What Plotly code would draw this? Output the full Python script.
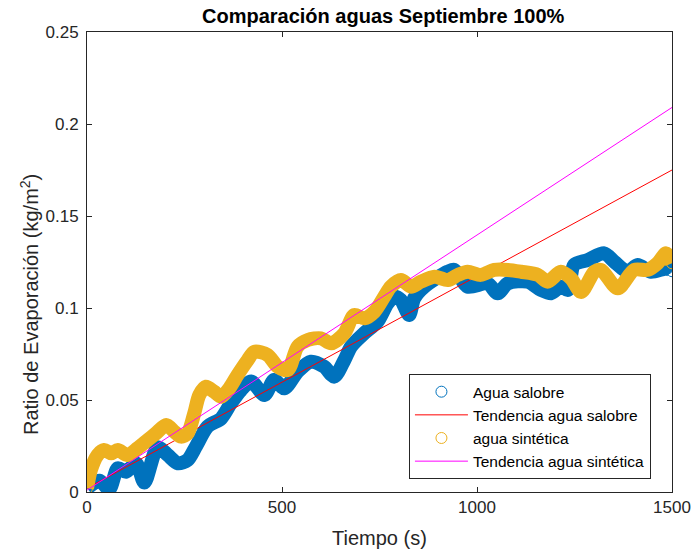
import plotly.graph_objects as go

# ---- data ----
t_salobre = [0, 32, 57, 79, 100, 126, 147, 181, 207, 233, 258, 279, 309, 344, 369, 395,
             421, 455, 480, 506, 540, 574, 608, 634, 660, 677, 711, 745, 771, 788, 805,
             826, 839, 865, 925, 942, 976, 1027, 1053, 1079, 1130, 1164, 1190, 1215,
             1233, 1249, 1284, 1326, 1352, 1386, 1412, 1446, 1489, 1500]
v_salobre = [0.002, 0.0061, 0.0015, 0.0129, 0.011, 0.0156, 0.0051, 0.0243, 0.0201, 0.0156,
             0.0174, 0.0246, 0.0355, 0.040, 0.0482, 0.0554, 0.060, 0.0527, 0.0609, 0.0564,
             0.0654, 0.0708, 0.0681, 0.0627, 0.0717, 0.079, 0.0863, 0.0926, 0.1026, 0.1061,
             0.1043, 0.0962, 0.1053, 0.1116, 0.1197, 0.1207, 0.1116, 0.1134, 0.108, 0.1134,
             0.1143, 0.1098, 0.108, 0.1116, 0.1098, 0.1234, 0.1261, 0.1297, 0.1252, 0.1197,
             0.1234, 0.1197, 0.1216, 0.120]

t_sintetica = [0, 10, 27, 44, 62, 79, 104, 130, 156, 177, 203, 224, 241, 258, 275, 288,
               305, 326, 344, 365, 386, 412, 429, 463, 489, 515, 540, 566, 600, 626, 660,
               685, 711, 737, 762, 779, 805, 831, 856, 891, 925, 951, 976, 1010, 1044,
               1079, 1113, 1156, 1181, 1215, 1241, 1267, 1301, 1318, 1361, 1403, 1438,
               1463, 1485, 1500]
v_sintetica = [0.002, 0.012, 0.0201, 0.0228, 0.021, 0.0228, 0.0201, 0.0238, 0.0283, 0.0319,
               0.0364, 0.0328, 0.0301, 0.0319, 0.0428, 0.0527, 0.0572, 0.0545, 0.0518, 0.0564,
               0.0636, 0.0717, 0.0762, 0.0745, 0.0681, 0.0663, 0.079, 0.0826, 0.0835, 0.0808,
               0.0863, 0.0962, 0.0944, 0.098, 0.1061, 0.1116, 0.1152, 0.1116, 0.1143, 0.117,
               0.1152, 0.118, 0.1197, 0.118, 0.1207, 0.1207, 0.1197, 0.118, 0.1143, 0.1197,
               0.1161, 0.1087, 0.1197, 0.1207, 0.1107, 0.1207, 0.1207, 0.1243, 0.1297, 0.1243]

t_trend = [0, 1500]
trend_salobre = [0.002, 0.175]
trend_sintetica = [0.001, 0.209]

x_ticks = [0, 500, 1000, 1500]
y_ticks = [0, 0.05, 0.1, 0.15, 0.2, 0.25]
y_tick_text = ["0", "0.05", "0.1", "0.15", "0.2", "0.25"]

names = ["Agua salobre", "Tendencia agua salobre", "agua sintética", "Tendencia agua sintética"]

BLUE = "#0072BD"
YELLOW = "#EDB120"
AXC = "#262626"
FONT = "Liberation Sans, Arial, Helvetica, sans-serif"

fig = go.Figure()

def band(t, v, color, name):
    fig.add_trace(go.Scatter(x=t, y=v, mode="lines", line=dict(color=color, width=14, shape="spline", smoothing=0.8),
                             showlegend=False, legendgroup=name, hoverinfo="skip"))
    fig.add_trace(go.Scatter(x=t, y=v, mode="markers", name=name, legendgroup=name,
                             marker=dict(symbol="circle-open", size=11, color=color, line=dict(width=1))))

band(t_salobre, v_salobre, BLUE, names[0])
fig.add_trace(go.Scatter(x=t_trend, y=trend_salobre, mode="lines", name=names[1],
                         line=dict(color="#FF0000", width=1)))
band(t_sintetica, v_sintetica, YELLOW, names[2])
fig.add_trace(go.Scatter(x=t_trend, y=trend_sintetica, mode="lines", name=names[3],
                         line=dict(color="#FF00FF", width=1)))

axis_common = dict(showline=True, linecolor=AXC, linewidth=1, mirror="allticks",
                   ticks="inside", ticklen=5, tickcolor=AXC, tickwidth=1,
                   showgrid=False, zeroline=False, automargin=False,
                   tickfont=dict(family=FONT, size=17, color=AXC))

fig.update_xaxes(range=[0, 1500], tickvals=x_ticks, **axis_common)
fig.update_yaxes(range=[0, 0.25], tickvals=y_ticks, ticktext=y_tick_text, ticklabelstandoff=4, **axis_common)

fig.update_layout(
    width=694, height=552,
    margin=dict(l=87, r=22, t=32, b=60, autoexpand=False),
    paper_bgcolor="white", plot_bgcolor="white",
    font=dict(family=FONT, color=AXC),
    showlegend=True,
    legend=dict(x=0.964, xanchor="right", y=0.028, yanchor="bottom",
                bgcolor="white", bordercolor=AXC, borderwidth=1,
                font=dict(family=FONT, size=15.5, color="black"),
                itemwidth=53, tracegroupgap=0),
    annotations=[
        dict(text="<b>Comparación aguas Septiembre 100%</b>", xref="paper", yref="paper",
             x=(383 - 87) / 585, y=(492 - 16) / 460, xanchor="center", yanchor="middle",
             showarrow=False, font=dict(family=FONT, size=20, color="black")),
        dict(text="Tiempo (s)", xref="paper", yref="paper",
             x=0.5, y=(492 - 538) / 460, xanchor="center", yanchor="middle",
             showarrow=False, font=dict(family=FONT, size=20, color=AXC)),
        dict(text="Ratio de Evaporación (kg/m<sup>2</sup>)", xref="paper", yref="paper",
             x=(29 - 87) / 585, y=(492 - 305) / 460, xanchor="center", yanchor="middle",
             textangle=-90, showarrow=False, font=dict(family=FONT, size=20, color=AXC)),
    ],
)

fig.write_html("out.html")
